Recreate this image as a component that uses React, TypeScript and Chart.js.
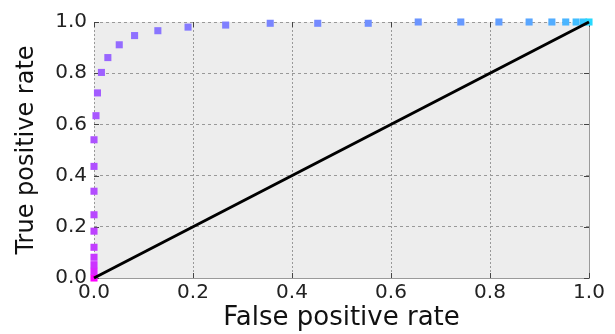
import React, { useEffect, useRef } from "react";
import { Chart, registerables } from "chart.js";

Chart.register(...registerables);

// ROC curve points (false positive rate, true positive rate)
const fprValues = [
  0, 0, 0, 0, 0, 0, 0, 0, 0, 0, 0.004, 0.007, 0.015, 0.028, 0.051, 0.082,
  0.129, 0.19, 0.266, 0.356, 0.452, 0.554, 0.655, 0.741, 0.818, 0.879, 0.925,
  0.953, 0.974, 0.989, 1.0,
];
const tprValues = [
  0, 0.026, 0.052, 0.081, 0.12, 0.183, 0.247, 0.339, 0.436, 0.54, 0.634,
  0.723, 0.803, 0.861, 0.911, 0.947, 0.966, 0.98, 0.988, 0.995, 0.995, 0.995,
  1.0, 1.0, 1.0, 1.0, 1.0, 1.0, 1.0, 1.0, 1.0,
];
// threshold level of each point, mapped through the "cool" colormap
const thresholdLevels = [
  1.0, 0.85, 0.8, 0.78, 0.76, 0.74, 0.72, 0.7, 0.69, 0.68, 0.66, 0.64, 0.62,
  0.6, 0.58, 0.56, 0.54, 0.52, 0.5, 0.48, 0.46, 0.44, 0.42, 0.4, 0.38, 0.35,
  0.32, 0.29, 0.26, 0.22, 0.15,
];
// chance diagonal
const diagonalX = [0, 1];
const diagonalY = [0, 1];
const tickValues = [0, 0.2, 0.4, 0.6, 0.8, 1.0];

const coolColor = (t: number) =>
  `rgb(${Math.round(255 * t)}, ${Math.round(255 * (1 - t))}, 255)`;

const frame = {
  id: "frame",
  beforeDraw(chart: any) {
    const { ctx, chartArea: a } = chart;
    ctx.save();
    ctx.fillStyle = "#ededed";
    ctx.fillRect(a.left, a.top, a.right - a.left, a.bottom - a.top);
    ctx.restore();
  },
  beforeDatasetsDraw(chart: any) {
    const { ctx, chartArea: a, scales } = chart;
    ctx.save();
    ctx.strokeStyle = "#9a9a9a";
    ctx.lineWidth = 1;
    ctx.beginPath();
    ctx.moveTo(Math.round(a.right) + 0.5, a.top);
    ctx.lineTo(Math.round(a.right) + 0.5, a.bottom);
    ctx.stroke();
    ctx.strokeStyle = "#444";
    const L = 5;
    ctx.beginPath();
    for (const v of tickValues) {
      const x = Math.round(scales.x.getPixelForValue(v)) + 0.5;
      ctx.moveTo(x, a.bottom);
      ctx.lineTo(x, a.bottom - L);
      ctx.moveTo(x, a.top);
      ctx.lineTo(x, a.top + L);
      const y = Math.round(scales.y.getPixelForValue(v)) + 0.5;
      ctx.moveTo(a.left, y);
      ctx.lineTo(a.left + L, y);
      ctx.moveTo(a.right, y);
      ctx.lineTo(a.right - L, y);
    }
    ctx.stroke();
    ctx.restore();
  },
};

export default function App() {
  const ref = useRef<HTMLCanvasElement | null>(null);
  useEffect(() => {
    if (!ref.current) return;
    const font = "'DejaVu Sans', sans-serif";
    const chart = new Chart(ref.current, {
      type: "scatter",
      data: {
        datasets: [
          {
            type: "line",
            data: diagonalX.map((x, i) => ({ x, y: diagonalY[i] })),
            borderColor: "#000",
            borderWidth: 3,
            pointRadius: 0,
            fill: false,
            clip: false as any,
          },
          {
            data: fprValues.map((x, i) => ({ x, y: tprValues[i] })),
            pointStyle: "rect",
            pointRadius: 5,
            pointBorderWidth: 0,
            backgroundColor: thresholdLevels.map(coolColor),
            borderColor: "rgba(0,0,0,0)",
            clip: false as any,
          },
        ],
      },
      options: {
        animation: false,
        responsive: false,
        events: [],
        layout: { padding: { top: 22, right: 26, left: 0, bottom: 0 } },
        plugins: { legend: { display: false }, tooltip: { enabled: false } },
        scales: {
          x: {
            type: "linear",
            min: 0,
            max: 1,
            afterBuildTicks: (s: any) => {
              s.ticks = tickValues.map((value) => ({ value }));
            },
            afterFit: (s: any) => {
              s.height = 56;
            },
            grid: { color: "#999", lineWidth: 1, drawTicks: false },
            border: { display: true, color: "#9a9a9a", width: 1, dash: [2, 2] },
            ticks: {
              padding: 3,
              color: "#222",
              font: { family: font, size: 20 },
              maxRotation: 0,
              callback: (v: any) => Number(v).toFixed(1),
            },
            title: {
              display: true,
              text: "False positive rate",
              color: "#111",
              font: { family: font, size: 26 },
              padding: { top: 0, bottom: 0 },
            },
          },
          y: {
            type: "linear",
            min: 0,
            max: 1,
            afterBuildTicks: (s: any) => {
              s.ticks = tickValues.map((value) => ({ value }));
            },
            afterFit: (s: any) => {
              s.width = 94;
            },
            grid: { color: "#999", lineWidth: 1, drawTicks: false },
            border: { display: false, dash: [3, 3] },
            ticks: {
              padding: 7,
              color: "#222",
              font: { family: font, size: 20 },
              callback: (v: any) => Number(v).toFixed(1),
            },
            title: {
              display: true,
              text: "True positive rate",
              color: "#111",
              font: { family: font, size: 24 },
              padding: { top: 12, bottom: 0 },
            },
          },
        },
      },
      plugins: [frame],
    });
    return () => chart.destroy();
  }, []);
  return (
    <div style={{ position: "fixed", left: 0, top: 0, width: 615, height: 334, background: "#fff" }}>
      <canvas ref={ref} width={615} height={334} style={{ display: "block" }} />
    </div>
  );
}
